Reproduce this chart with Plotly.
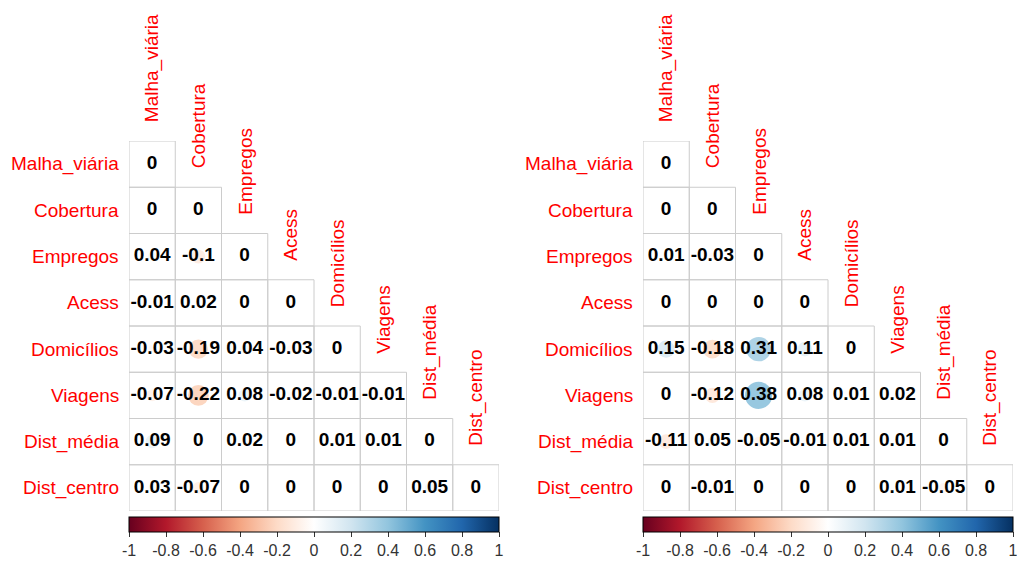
import numpy as np
import plotly.graph_objects as go

# Variables (rows/columns of the lower-triangular correlation matrices)
variables = ["Malha_viária", "Cobertura", "Empregos", "Acess", "Domicílios",
             "Viagens", "Dist_média", "Dist_centro"]

# Lower-triangular correlation coefficients, row by row (left matrix)
corr_left = [
    [0],
    [0, 0],
    [0.04, -0.1, 0],
    [-0.01, 0.02, 0, 0],
    [-0.03, -0.19, 0.04, -0.03, 0],
    [-0.07, -0.22, 0.08, -0.02, -0.01, -0.01],
    [0.09, 0, 0.02, 0, 0.01, 0.01, 0],
    [0.03, -0.07, 0, 0, 0, 0, 0.05, 0],
]

# Lower-triangular correlation coefficients, row by row (right matrix)
corr_right = [
    [0],
    [0, 0],
    [0.01, -0.03, 0],
    [0, 0, 0, 0],
    [0.15, -0.18, 0.31, 0.11, 0],
    [0, -0.12, 0.38, 0.08, 0.01, 0.02],
    [-0.11, 0.05, -0.05, -0.01, 0.01, 0.01, 0],
    [0, -0.01, 0, 0, 0, 0.01, -0.05, 0],
]

colorbar_ticks = [-1, -0.8, -0.6, -0.4, -0.2, 0, 0.2, 0.4, 0.6, 0.8, 1]
colorbar_ticktext = ["-1", "-0.8", "-0.6", "-0.4", "-0.2", "0", "0.2", "0.4", "0.6", "0.8", "1"]

# Diverging red-blue palette
rdbu = ["#67001F", "#B2182B", "#D6604D", "#F4A582", "#FDDBC7", "#FFFFFF",
        "#D1E5F0", "#92C5DE", "#4393C3", "#2166AC", "#053061"]
colorscale = [[i / (len(rdbu) - 1), c] for i, c in enumerate(rdbu)]

W, H = 1017, 561
n = len(variables)
cell_px = 46.25
grid_top, grid_bottom = 141, 511
panels = [(corr_left, 129, "x", "y"), (corr_right, 643, "x2", "y2")]

FONT = "Liberation Sans, Arial, sans-serif"
LABEL_RED = "#FF0000"

fig = go.Figure()
shapes = []
annotations = []

for k, (corr, left_px, xa, ya) in enumerate(panels):
    xs, ys, vals, labels = [], [], [], []
    for i, row in enumerate(corr):
        for j, v in enumerate(row):
            xs.append(j + 0.5)
            ys.append(i + 0.5)
            vals.append(v)
            labels.append(f"{v:g}")
            shapes.append(dict(type="rect", xref=xa, yref=ya,
                               x0=j, x1=j + 1, y0=i, y1=i + 1,
                               line=dict(color="#CCCCCC", width=1),
                               fillcolor="rgba(0,0,0,0)", layer="below"))
    vals = np.array(vals, dtype=float)
    sizes = 0.95 * cell_px * np.sqrt(np.abs(vals))

    fig.add_trace(go.Scatter(
        x=xs, y=ys, mode="markers", xaxis=xa, yaxis=ya,
        marker=dict(size=sizes, color=vals, colorscale=colorscale,
                    cmin=-1, cmax=1, line=dict(width=0), opacity=1,
                    showscale=True,
                    colorbar=dict(
                        orientation="h",
                        x=left_px / W, xanchor="left",
                        len=n * cell_px / W, lenmode="fraction",
                        y=1 - 517 / H, yanchor="top",
                        thickness=15, thicknessmode="pixels",
                        xpad=0, ypad=0,
                        outlinewidth=1, outlinecolor="black",
                        ticks="outside", ticklen=5, tickcolor="#333333",
                        ticklabeloverflow="allow",
                        tickvals=colorbar_ticks, ticktext=colorbar_ticktext,
                        tickfont=dict(family=FONT, size=16, color="#333333"),
                    )),
        hoverinfo="skip", showlegend=False,
    ))
    fig.add_trace(go.Scatter(
        x=xs, y=ys, mode="text", xaxis=xa, yaxis=ya, text=labels,
        textfont=dict(family=FONT, size=19, color="black", weight="bold"),
        hoverinfo="skip", showlegend=False,
    ))

    for i, name in enumerate(variables):
        # row label
        annotations.append(dict(
            xref=xa, yref=ya, x=0, y=i + 0.5, text=name, showarrow=False,
            xanchor="right", yanchor="middle", xshift=-8,
            font=dict(family=FONT, size=19, color=LABEL_RED)))
        # column label, rotated, sitting above the diagonal cell
        annotations.append(dict(
            xref=xa, yref=ya, x=i + 0.5, y=i, text=name, showarrow=False,
            textangle=-90, xanchor="center", yanchor="bottom", yshift=17,
            font=dict(family=FONT, size=19, color=LABEL_RED)))

ydom = [1 - grid_bottom / H, 1 - grid_top / H]
fig.update_layout(
    width=W, height=H,
    margin=dict(l=0, r=0, t=0, b=0),
    paper_bgcolor="white", plot_bgcolor="rgba(0,0,0,0)",
    shapes=shapes, annotations=annotations,
    xaxis=dict(domain=[129 / W, (129 + n * cell_px) / W], range=[0, n], visible=False, fixedrange=True),
    yaxis=dict(domain=ydom, range=[n, 0], visible=False, fixedrange=True),
    xaxis2=dict(domain=[643 / W, (643 + n * cell_px) / W], range=[0, n], visible=False, fixedrange=True),
    yaxis2=dict(domain=ydom, range=[n, 0], visible=False, fixedrange=True),
)

fig.write_html("out.html")
